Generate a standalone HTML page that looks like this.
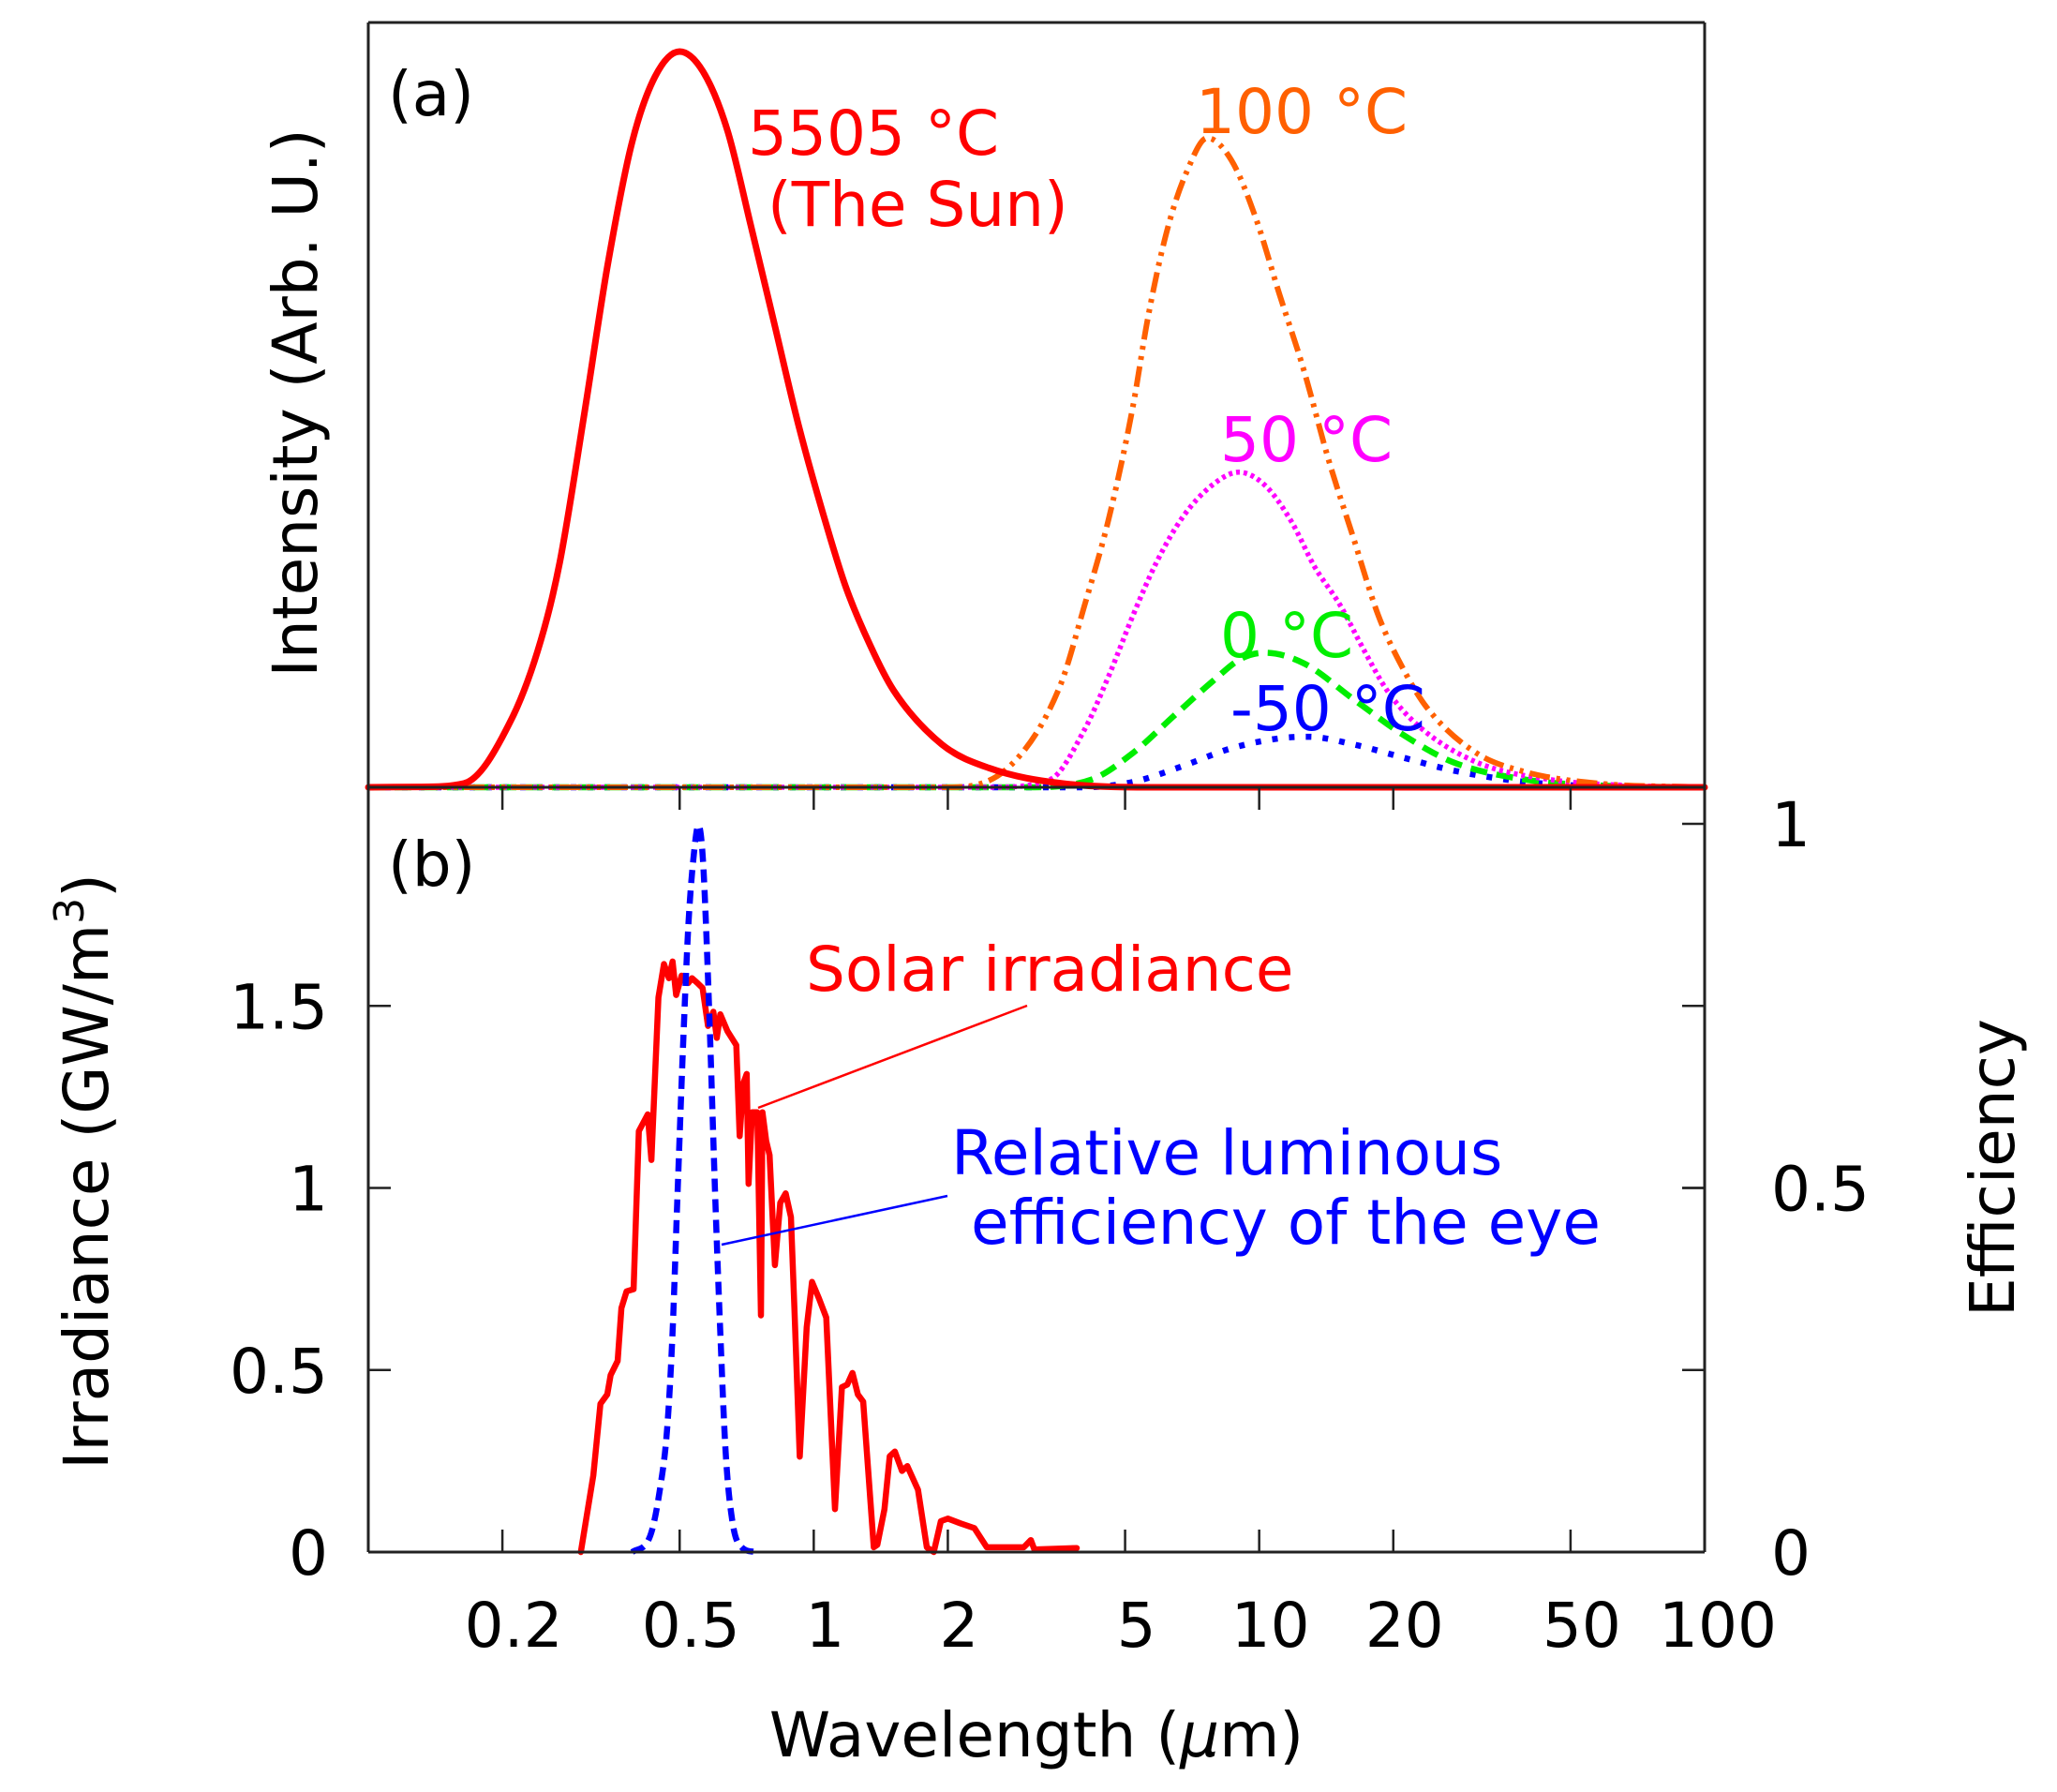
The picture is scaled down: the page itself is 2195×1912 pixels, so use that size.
<!DOCTYPE html>
<html><head><meta charset="utf-8">
<style>
html,body{margin:0;padding:0;background:#fff;}
svg{display:block;}
text{font-family:"DejaVu Sans","Liberation Sans",sans-serif;}
</style></head>
<body>
<svg id="chart" width="2195" height="1912" viewBox="0 0 2195 1912" xmlns="http://www.w3.org/2000/svg">
<rect x="0" y="0" width="2195" height="1912" fill="#fff"/>
<g id="curvesA"></g>
<g id="curvesB"></g>
<g id="axes"></g>
<g font-size="66">
  <text x="414" y="123" fill="#000">(a)</text>
  <text x="798" y="165" fill="#ff0000">5505 °C</text>
  <text x="819" y="241" fill="#ff0000">(The Sun)</text>
  <text x="1276" y="142" fill="#ff6000">100 °C</text>
  <text x="1302" y="492" fill="#ff00ff">50 °C</text>
  <text x="1302" y="701" fill="#00ee00">0 °C</text>
  <text x="1313" y="779" fill="#0000ff">-50 °C</text>
</g>
<g font-size="66">
  <text x="414" y="945" fill="#000">(b)</text>
  <text x="860" y="1057" fill="#ff0000">Solar irradiance</text>
  <line x1="809" y1="1182" x2="1096" y2="1073" stroke="#ff0000" stroke-width="2.5"/>
  <text x="1015" y="1253" fill="#0000ff">Relative luminous</text>
  <text x="1036" y="1327" fill="#0000ff">efficiency of the eye</text>
  <line x1="770" y1="1328" x2="1011" y2="1276" stroke="#0000ff" stroke-width="2.5"/>
</g>
<g font-size="66" fill="#000">
  <text x="1106" y="1874" text-anchor="middle">Wavelength (<tspan font-style="italic">μ</tspan>m)</text>
  <text transform="translate(338,430) rotate(-90)" text-anchor="middle">Intensity (Arb. U.)</text>
  <text transform="translate(115,1250) rotate(-90)" text-anchor="middle">Irradiance (GW/m<tspan font-size="44" dy="-26">3</tspan><tspan dy="26">)</tspan></text>
  <text transform="translate(2149,1246) rotate(-90)" text-anchor="middle">Efficiency</text>
</g>
</svg>
<script>
// ---- data: panel (a) blackbody curves (wavelength in µm, intensity arb.) ----
const sunLam = [0.1,0.13,0.164,0.210,0.244,0.269,0.305,0.344,0.390,0.440,0.500,0.564,0.640,0.722,0.818,0.924,1.048,1.18,1.34,1.51,1.94,2.48,3.61,6,100];
const sunI   = [0,0.0005,0.005,0.090,0.192,0.294,0.486,0.680,0.841,0.929,0.962,0.936,0.859,0.735,0.603,0.474,0.359,0.262,0.185,0.127,0.056,0.025,0.005,0,0];
const t100Lam = [0.1,2.0,2.76,3.57,4.05,4.59,5.21,5.63,6.23,6.90,7.64,8.66,9.83,11.1,12.6,14.3,16.3,18.5,21.0,23.8,30.7,39.6,57.8,100];
const t100I   = [0,0,0.028,0.132,0.237,0.350,0.499,0.615,0.731,0.807,0.849,0.820,0.744,0.645,0.545,0.429,0.325,0.225,0.156,0.104,0.045,0.020,0.005,0];
const t50Lam = [0.1,2.5,3.39,4.05,4.59,5.21,5.89,6.75,7.84,9.0,10.3,11.8,13.3,15.2,17.2,19.4,22.8,30.7,45,70,100];
const t50I   = [0,0,0.010,0.075,0.145,0.225,0.295,0.354,0.395,0.412,0.395,0.348,0.289,0.238,0.179,0.126,0.080,0.033,0.010,0.002,0];
const t0Lam = [0.1,3.0,4.2,5.21,6.4,7.84,9.1,10.3,12.6,16.3,21.0,27.2,39.6,60,100];
const t0I   = [0,0,0.010,0.045,0.092,0.138,0.168,0.176,0.162,0.115,0.069,0.033,0.010,0.002,0];
const tm50Lam = [0.1,4.0,5.21,6.75,8.66,11.1,12.9,16.3,21,27.2,39.6,60,100];
const tm50I   = [0,0,0.007,0.028,0.051,0.064,0.066,0.056,0.039,0.022,0.007,0.001,0];
// ---- data: panel (b) ----
const solarLam = [0.300,0.320,0.332,0.344,0.350,0.363,0.370,0.380,0.394,0.405,0.424,0.432,0.448,0.461,0.473,0.482,0.491,0.505,0.523,0.533,0.548,0.563,0.579,0.595,0.606,0.617,0.640,0.670,0.682,0.695,0.707,0.714,0.727,0.747,0.761,0.767,0.782,0.796,0.818,0.841,0.865,0.889,0.905,0.930,0.964,0.991,1.028,1.067,1.116,1.157,1.189,1.222,1.256,1.291,1.364,1.389,1.441,1.481,1.521,1.578,1.622,1.714,1.794,1.860,1.929,2.001,2.133,2.294,2.446,2.962,3.072,3.129,3.894];
const solarIrr = [0,0.210,0.407,0.433,0.486,0.525,0.670,0.716,0.722,1.156,1.202,1.077,1.523,1.615,1.576,1.622,1.530,1.583,1.563,1.576,1.563,1.549,1.445,1.484,1.412,1.477,1.431,1.392,1.142,1.287,1.313,1.011,1.208,1.208,0.650,1.208,1.129,1.090,0.788,0.959,0.985,0.920,0.670,0.262,0.617,0.742,0.696,0.644,0.118,0.453,0.460,0.492,0.433,0.413,0.013,0.020,0.118,0.263,0.276,0.223,0.236,0.171,0.013,0,0.085,0.092,0.079,0.066,0.013,0.013,0.033,0.007,0.011];
const eyeLam = [0.391,0.428,0.453,0.469,0.482,0.495,0.509,0.523,0.538,0.551,0.563,0.573,0.586,0.600,0.617,0.634,0.658,0.688,0.740];
const eyeEff = [0,0.020,0.092,0.171,0.302,0.499,0.696,0.860,0.958,0.998,0.958,0.860,0.696,0.499,0.302,0.138,0.039,0.007,0];
// ---- ticks ----
const xTicks = [0.2,0.5,1,2,5,10,20,50];
const xTickLabels = ["0.2","0.5","1","2","5","10","20","50","100"];
const xLabelVals = [0.2,0.5,1,2,5,10,20,50,100];
const yLeftTicks = [0,0.5,1,1.5];
const yLeftLabels = ["0","0.5","1","1.5"];
const yRightTicks = [0,0.5,1];
const yRightLabels = ["0","0.5","1"];

// ---- scales ----
const X0=393, X1=1819, A_TOP=24, A_BOT=840, B_BOT=1656;
function xs(l){ return X0 + (Math.log10(l) - (-1)) / 3 * (X1 - X0); }
function yA(v){ return A_BOT - v * 816; }
function yB(v){ return B_BOT - v * 388.5; }
function yE(v){ return B_BOT - v * 777; }
const NS="http://www.w3.org/2000/svg";

function monotonePath(px, py){
  const n=px.length; const d=[], m=new Array(n).fill(0);
  for(let i=0;i<n-1;i++) d.push((py[i+1]-py[i])/(px[i+1]-px[i]));
  m[0]=d[0]; m[n-1]=d[n-2];
  for(let i=1;i<n-1;i++){ if(d[i-1]*d[i]<=0) m[i]=0; else m[i]=(d[i-1]+d[i])/2; }
  for(let i=0;i<n-1;i++){ if(d[i]===0){m[i]=0;m[i+1]=0;continue;}
    const a=m[i]/d[i], b=m[i+1]/d[i], s=a*a+b*b;
    if(s>9){const t=3/Math.sqrt(s); m[i]=t*a*d[i]; m[i+1]=t*b*d[i];} }
  let p="M"+px[0].toFixed(1)+","+py[0].toFixed(1);
  for(let i=0;i<n-1;i++){ const h=(px[i+1]-px[i])/3;
    p+=" C"+(px[i]+h).toFixed(1)+","+(py[i]+m[i]*h).toFixed(1)+" "+(px[i+1]-h).toFixed(1)+","+(py[i+1]-m[i+1]*h).toFixed(1)+" "+px[i+1].toFixed(1)+","+py[i+1].toFixed(1); }
  return p;
}
function addPath(parent, d, color, w, dash, cap){
  const el=document.createElementNS(NS,"path");
  el.setAttribute("d",d); el.setAttribute("fill","none"); el.setAttribute("stroke",color);
  el.setAttribute("stroke-width",w); el.setAttribute("stroke-linejoin","round");
  if(dash) el.setAttribute("stroke-dasharray",dash);
  el.setAttribute("stroke-linecap",cap||"butt");
  parent.appendChild(el); return el;
}
const gA=document.getElementById("curvesA"), gB=document.getElementById("curvesB"), gX=document.getElementById("axes");
function curveA(lam, val, color, w, dash, cap, name){
  const el=addPath(gA, monotonePath(lam.map(xs), val.map(yA)), color, w, dash, cap);
  
  
}
curveA(tm50Lam, tm50I, "#0000ff", 6.5, "6 12", "butt", "curve-minus50c");
curveA(t0Lam, t0I, "#00ee00", 6.5, "18 10", "butt", "curve-0c");
curveA(t50Lam, t50I, "#ff00ff", 5.5, "4 4", "butt", "curve-50c");
curveA(t100Lam, t100I, "#ff6000", 6, "22 7 4 7 4 7", "butt", "curve-100c");
curveA(sunLam, sunI, "#ff0000", 7, null, "round", "curve-sun");

// panel b
let sp="";
for(let i=0;i<solarLam.length;i++){ sp+=(i?" L":"M")+xs(solarLam[i]).toFixed(1)+","+yB(solarIrr[i]).toFixed(1); }
const solarEl=addPath(gB, sp, "#ff0000", 6.5, null, "round");


const eyeEl=addPath(gB, monotonePath(eyeLam.map(xs), eyeEff.map(yE)), "#0000ff", 6.5, "14 8", "butt");



// axes frames
function line(x1,y1,x2,y2,w,name){
  const l=document.createElementNS(NS,"line");
  l.setAttribute("x1",x1);l.setAttribute("y1",y1);l.setAttribute("x2",x2);l.setAttribute("y2",y2);
  l.setAttribute("stroke","#222");l.setAttribute("stroke-width",w);
  
  
  gX.appendChild(l);
}
line(X0,A_TOP,X1,A_TOP,3,"panel-a-top-border");
line(X0,A_TOP,X0,B_BOT,3,"left-border");
line(X1,A_TOP,X1,B_BOT,3,"right-border");
line(X0,A_BOT,X1,A_BOT,3,"panel-divider");
line(X0,B_BOT,X1,B_BOT,3,"bottom-border");
const TL=24;
xTicks.forEach(function(t){
  line(xs(t),A_BOT,xs(t),A_BOT+TL,2.5,"x-tick-top");
  line(xs(t),B_BOT,xs(t),B_BOT-TL,2.5,"x-tick-bottom");
});
yLeftTicks.forEach(function(t){
  if(t>0){ line(X0,yB(t),X0+TL,yB(t),2.5,"y-tick-left"); line(X1,yB(t),X1-TL,yB(t),2.5,"y-tick-left-mirror"); }
});
yRightTicks.forEach(function(t){
  if(t>0){ line(X1,yE(t),X1-TL,yE(t),2.5,"y2-tick-right"); }
});
function txt(x,y,s,anchor,name){
  const t=document.createElementNS(NS,"text");
  t.setAttribute("x",x);t.setAttribute("y",y);t.setAttribute("font-size","66");
  t.setAttribute("text-anchor",anchor);t.setAttribute("fill","#000");t.textContent=s;
  
  
  gX.appendChild(t);
}
xLabelVals.forEach(function(v,i){ txt(xs(v)+(i===8?14:12),1757,xTickLabels[i],"middle","x-tick-label"); });
yLeftTicks.forEach(function(v,i){ txt(350,yB(v)+24,yLeftLabels[i],"end","y-tick-label"); });
yRightTicks.forEach(function(v,i){ txt(1890,yE(v)+24,yRightLabels[i],"start","y2-tick-label"); });
</script>
</body></html>
